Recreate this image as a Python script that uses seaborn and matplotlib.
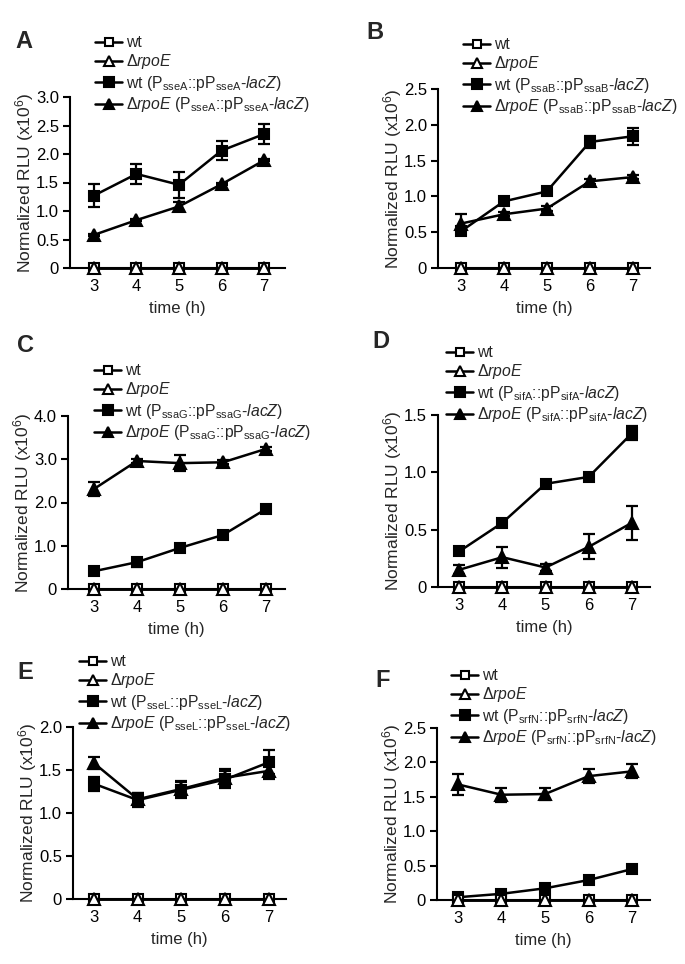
import matplotlib
matplotlib.use("Agg")
import matplotlib.pyplot as plt
import seaborn as sns
import pandas as pd
import numpy as np

sns.set_theme(style="ticks")
plt.rcParams['font.family'] = ['Liberation Sans', 'DejaVu Sans']
plt.rcParams['mathtext.fontset'] = 'custom'
plt.rcParams['mathtext.rm'] = 'Liberation Sans'
plt.rcParams['mathtext.it'] = 'Liberation Sans:italic'
plt.rcParams['mathtext.bf'] = 'Liberation Sans:bold'

# ---------------- data ----------------
time_h = [3, 4, 5, 6, 7]
panel_letters = ["A", "B", "C", "D", "E", "F"]
promoters = ["sseA", "ssaB", "ssaG", "sifA", "sseL", "srfN"]

ctrl_wt = [0, 0, 0, 0, 0]
ctrl_rpoE = [0, 0, 0, 0, 0]

wt_vals = {
    "A": [1.27, 1.65, 1.46, 2.06, 2.35],
    "B": [0.51, 0.93, 1.07, 1.76, 1.84],
    "C": [0.41, 0.62, 0.95, 1.25, 1.85],
    "D": [0.31, 0.56, 0.90, 0.96, 1.34],
    "E": [1.34, 1.15, 1.27, 1.39, 1.59],
    "F": [0.04, 0.09, 0.17, 0.29, 0.45],
}
wt_err = {
    "A": [0.20, 0.18, 0.23, 0.17, 0.17],
    "B": [0.05, 0.03, 0.03, 0.08, 0.12],
    "C": [0.05, 0.10, 0.05, 0.05, 0.05],
    "D": [0.02, 0.02, 0.02, 0.02, 0.06],
    "E": [0.08, 0.08, 0.10, 0.10, 0.14],
    "F": [0.01, 0.02, 0.02, 0.03, 0.05],
}
mut_vals = {
    "A": [0.58, 0.84, 1.08, 1.47, 1.89],
    "B": [0.62, 0.75, 0.83, 1.21, 1.27],
    "C": [2.31, 2.96, 2.91, 2.93, 3.24],
    "D": [0.15, 0.26, 0.17, 0.35, 0.56],
    "E": [1.58, 1.16, 1.28, 1.41, 1.49],
    "F": [1.68, 1.53, 1.54, 1.80, 1.87],
}
mut_err = {
    "A": [0.02, 0.02, 0.08, 0.02, 0.02],
    "B": [0.13, 0.03, 0.03, 0.03, 0.03],
    "C": [0.16, 0.05, 0.18, 0.05, 0.05],
    "D": [0.04, 0.09, 0.03, 0.11, 0.15],
    "E": [0.07, 0.07, 0.08, 0.10, 0.10],
    "F": [0.15, 0.10, 0.09, 0.10, 0.10],
}
y_ticks = {
    "A": [0, 0.5, 1.0, 1.5, 2.0, 2.5, 3.0],
    "B": [0, 0.5, 1.0, 1.5, 2.0, 2.5],
    "C": [0, 1.0, 2.0, 3.0, 4.0],
    "D": [0, 0.5, 1.0, 1.5],
    "E": [0, 0.5, 1.0, 1.5, 2.0],
    "F": [0, 0.5, 1.0, 1.5, 2.0, 2.5],
}

# ---------------- layout (pixels) ----------------
W, H = 685, 964
# left, right, top, bottom (pixel), xlim
axes_px = {
    "A": (70, 285, 97, 268, (2.44, 7.49)),
    "B": (438, 650, 89, 268, (2.47, 7.40)),
    "C": (68, 285, 416, 589, (2.40, 7.44)),
    "D": (438, 650, 415, 587, (2.51, 7.42)),
    "E": (73, 286, 727, 899, (2.52, 7.39)),
    "F": (437, 650, 728, 900, (2.52, 7.41)),
}
# legend anchor (x of handle start, y of top) in pixels
legend_px = {
    "A": (95, 35),
    "B": (463, 37),
    "C": (94, 363),
    "D": (446, 345),
    "E": (79, 654),
    "F": (451, 668),
}
letter_px = {
    "A": (15, 48), "B": (366, 39), "C": (17, 352),
    "D": (372, 348), "E": (17, 679), "F": (375, 687),
}

fig = plt.figure(figsize=(W / 100, H / 100), dpi=100)

def fmt_tick(v):
    return "0" if v == 0 else f"{v:.1f}"

for p, prom in zip(panel_letters, promoters):
    l, r, t, b, xlim = axes_px[p]
    ax = fig.add_axes([l / W, 1 - b / H, (r - l) / W, (b - t) / H])
    ticks = y_ticks[p]

    df = pd.DataFrame({
        "time": time_h * 4,
        "value": ctrl_wt + ctrl_rpoE + wt_vals[p] + mut_vals[p],
        "err": [0] * 10 + wt_err[p] + mut_err[p],
        "series": ["wt"] * 5 + ["rpoE"] * 5 + ["wt_rep"] * 5 + ["rpoE_rep"] * 5,
    })

    lab_wt = "wt"
    lab_rpoE = r"$\mathit{\Delta rpoE}$"
    lab_wt_rep = r"wt (P$_{\mathrm{%s}}$::pP$_{\mathrm{%s}}$-$\mathit{lacZ}$)" % (prom, prom)
    lab_rpoE_rep = r"$\mathit{\Delta rpoE}$ (P$_{\mathrm{%s}}$::pP$_{\mathrm{%s}}$-$\mathit{lacZ}$)" % (prom, prom)

    specs = [
        ("wt_rep", "s", "black", 7.5, lab_wt_rep, 3),
        ("rpoE_rep", "^", "black", 8.5, lab_rpoE_rep, 3),
        ("wt", "s", "white", 7, lab_wt, 4),
        ("rpoE", "^", "white", 8.5, lab_rpoE, 5),
    ]
    for key, mk, fc, ms, lab, z in specs:
        sub = df[df["series"] == key]
        sns.lineplot(data=sub, x="time", y="value", ax=ax, color="black",
                     marker=mk, markersize=ms, markerfacecolor=fc,
                     markeredgecolor="black", markeredgewidth=1.5,
                     linewidth=1.8, label=lab, clip_on=False, zorder=z,
                     errorbar=None)
        if key in ("wt_rep", "rpoE_rep"):
            ax.errorbar(sub["time"], sub["value"], yerr=sub["err"], fmt="none",
                        ecolor="black", elinewidth=1.6, capsize=4, capthick=1.6,
                        zorder=2, clip_on=False)

    ax.set_xlim(*xlim)
    ax.set_ylim(0, ticks[-1])
    ax.set_xticks(time_h)
    ax.set_xticklabels([str(x) for x in time_h])
    ax.set_yticks(ticks)
    ax.set_yticklabels([fmt_tick(v) for v in ticks])
    ax.tick_params(axis="both", direction="out", length=5, width=1.5,
                   labelsize=12, color="black", labelcolor="black", pad=3)
    for s in ["left", "bottom"]:
        ax.spines[s].set_linewidth(1.5)
        ax.spines[s].set_color("black")
    for s in ["top", "right"]:
        ax.spines[s].set_visible(False)
    ax.set_xlabel("time (h)", fontsize=12, labelpad=5)
    ax.set_ylabel(r"Normalized RLU (x10$^{6}$)", fontsize=12.5, labelpad=0)

    handles, labels = ax.get_legend_handles_labels()
    order = [2, 3, 0, 1]
    lx, ly = legend_px[p]
    ax.legend([handles[i] for i in order], [labels[i] for i in order],
              loc="upper left", bbox_to_anchor=(lx / W, 1 - ly / H),
              bbox_transform=fig.transFigure, frameon=False, fontsize=11.3,
              handlelength=1.75, handletextpad=0.25, labelspacing=0.15,
              borderpad=0, borderaxespad=0, markerscale=0.9)

    fx, fy = letter_px[p]
    fig.text(fx / W, 1 - fy / H, p, fontsize=17, fontweight="bold",
             ha="left", va="baseline")

fig.savefig("out.png", dpi=100)
